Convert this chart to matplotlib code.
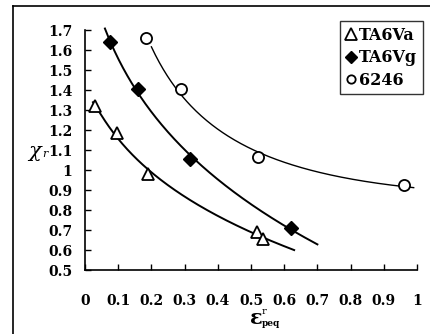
import numpy as np
import matplotlib
matplotlib.use("Agg")
import matplotlib.pyplot as plt
from matplotlib.lines import Line2D

# ---- data ----
ta6va_x = [0.03, 0.096, 0.19, 0.517, 0.537]
ta6va_y = [1.32, 1.185, 0.98, 0.69, 0.655]
ta6vg_x = [0.075, 0.16, 0.315, 0.62]
ta6vg_y = [1.64, 1.405, 1.055, 0.71]
s6246_x = [0.185, 0.29, 0.52, 0.96]
s6246_y = [1.66, 1.405, 1.065, 0.925]

# extent of the fitted trend curves
ta6va_range = [0.024, 0.63]
ta6vg_range = [0.06, 0.70]
s6246_range = [0.20, 0.99]

x_ticks = [0, 0.1, 0.2, 0.3, 0.4, 0.5, 0.6, 0.7, 0.8, 0.9, 1]
y_ticks = [0.5, 0.6, 0.7, 0.8, 0.9, 1, 1.1, 1.2, 1.3, 1.4, 1.5, 1.6, 1.7]
labels = ["TA6Va", "TA6Vg", "6246"]

W, H = 430, 334
fig = plt.figure(figsize=(W / 100, H / 100), dpi=100)
fig.patch.set_facecolor("white")
ax = fig.add_axes([85 / W, 1 - 270 / H, (417 - 85) / W, (270 - 30) / H])

serif = ["DejaVu Serif"]
tick_fs = 10


def fit_curve(xs, ys, rng):
    p = np.polyfit(np.log(xs), ys, 2)
    xx = np.linspace(rng[0], rng[1], 200)
    return xx, np.polyval(p, np.log(xx))


for xs, ys, rng, lw in [(ta6va_x, ta6va_y, ta6va_range, 1.4),
                        (ta6vg_x, ta6vg_y, ta6vg_range, 1.4),
                        (s6246_x, s6246_y, s6246_range, 1.0)]:
    xx, yy = fit_curve(xs, ys, rng)
    ax.plot(xx, yy, color="black", lw=lw, clip_on=False, zorder=2)

ax.plot(ta6va_x, ta6va_y, ls="none", marker="^", ms=9, mfc="white",
        mec="black", mew=1.3, clip_on=False, zorder=3)
ax.plot(ta6vg_x, ta6vg_y, ls="none", marker="D", ms=7, mfc="black",
        mec="black", mew=1.0, clip_on=False, zorder=3)
ax.plot(s6246_x, s6246_y, ls="none", marker="o", ms=8, mfc="white",
        mec="black", mew=1.3, clip_on=False, zorder=3)

ax.set_xlim(0, 1)
ax.set_ylim(0.5, 1.7)
ax.set_xticks(x_ticks)
ax.set_yticks(y_ticks)
ax.set_xticklabels(["%g" % v for v in x_ticks])
ax.set_yticklabels(["%g" % v for v in y_ticks])
for s in ["top", "right"]:
    ax.spines[s].set_visible(False)
for s in ["left", "bottom"]:
    ax.spines[s].set_linewidth(1.2)
ax.tick_params(axis="both", direction="in", length=4, width=1.0)
ax.tick_params(axis="x", pad=17)
ax.tick_params(axis="y", pad=9)
for lab in ax.get_xticklabels() + ax.get_yticklabels():
    lab.set_fontfamily(serif)
    lab.set_fontweight("bold")
    lab.set_fontsize(tick_fs)

# axis labels as text
fig.text(35 / W, 1 - 151 / H, "χ", fontfamily=serif, fontsize=15,
         fontstyle="italic", ha="center", va="center")
fig.text(42 / W, 1 - 154 / H, "r", fontfamily=serif, fontsize=8,
         fontstyle="italic", ha="left", va="center")
fig.text(256 / W, 1 - 318 / H, "ε", fontfamily=serif, fontsize=15,
         fontweight="bold", ha="center", va="center")
fig.text(262 / W, 1 - 312 / H, "r", fontfamily=serif, fontsize=7,
         ha="left", va="center")
fig.text(262 / W, 1 - 324 / H, "peq", fontfamily=serif, fontsize=6.5,
         fontweight="bold", ha="left", va="center")

# legend
handles = [
    Line2D([], [], ls="none", marker="^", ms=8, mfc="white", mec="black", mew=1.3),
    Line2D([], [], ls="none", marker="D", ms=6.5, mfc="black", mec="black"),
    Line2D([], [], ls="none", marker="o", ms=6, mfc="white", mec="black", mew=1.3),
]
leg = fig.legend(handles, labels, loc="upper right",
                 bbox_to_anchor=(423 / W, 1 - 21 / H),
                 prop={"family": serif, "weight": "bold", "size": 11.5},
                 frameon=True, fancybox=False, handlelength=0.6,
                 handletextpad=0.25, borderpad=0.35, labelspacing=0.35,
                 borderaxespad=0)
leg.get_frame().set_edgecolor("black")
leg.get_frame().set_linewidth(1.0)

# outer frame lines (top and left)
fig.add_artist(Line2D([13 / W, 1], [1 - 6 / H, 1 - 6 / H], color="black",
                      lw=1.2, transform=fig.transFigure))
fig.add_artist(Line2D([13 / W, 13 / W], [0, 1 - 6 / H], color="black",
                      lw=1.2, transform=fig.transFigure))

fig.savefig("out.png", dpi=100)
